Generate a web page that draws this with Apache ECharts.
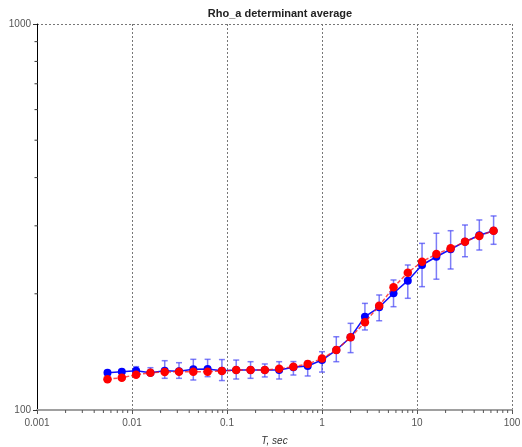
<!DOCTYPE html>
<html>
<head>
<meta charset="utf-8">
<script src="https://cdn.jsdelivr.net/npm/echarts@6/dist/echarts.min.js"></script>
<style>
  html, body { margin: 0; padding: 0; background: #fff; }
  #chart { width: 522px; height: 447px; }
</style>
</head>
<body>
<div id="chart"></div>
<script>
var periods = [0.00552, 0.00781, 0.01105, 0.01563, 0.0221, 0.03125, 0.0442, 0.0625, 0.0884, 0.125,
    0.177, 0.25, 0.354, 0.5, 0.707, 1, 1.414, 2, 2.83, 4,
    5.66, 8, 11.3, 16, 22.6, 32, 45.3, 64];

var rhoBlue = [124.9, 125.7, 126.4, 124.9, 126.4, 126.0, 127.5, 127.7, 126.4, 126.9,
    126.9, 126.9, 126.9, 129.0, 130.0, 134.7, 143.0, 154.3, 174.5, 184.5,
    200.6, 216.3, 237.5, 249.5, 260.9, 272.9, 283.6, 291.4];

var rhoRed = [120.1, 121.3, 123.4, 124.9, 125.4, 125.7, 125.7, 125.7, 126.2, 126.9,
    126.9, 126.9, 127.9, 129.5, 131.6, 135.9, 143.0, 154.3, 168.7, 186.3,
    207.9, 226.9, 242.2, 253.6, 262.5, 272.9, 282.4, 291.4];

var errLow = [123.5, 124.3, 124.5, 123.7, 120.8, 120.8, 119.6, 122.0, 119.2, 120.3,
    120.8, 121.8, 120.3, 123.2, 122.5, 125.4, 133.4, 140.8, 161.2, 170.3,
    185.2, 194.7, 208.7, 218.2, 231.9, 249.5, 259.7, 268.7];

var errHigh = [126.3, 127.1, 129.5, 128.7, 134.2, 132.6, 135.3, 135.3, 135.1, 134.7,
    133.4, 131.6, 133.4, 133.5, 133.9, 141.6, 154.8, 167.7, 188.9, 198.6,
    217.2, 237.5, 270.2, 287.0, 291.4, 301.5, 310.7, 318.2];

var xMinorTicks = [0.002, 0.003, 0.004, 0.005, 0.006, 0.007, 0.008, 0.009,
    0.02, 0.03, 0.04, 0.05, 0.06, 0.07, 0.08, 0.09,
    0.2, 0.3, 0.4, 0.5, 0.6, 0.7, 0.8, 0.9,
    2, 3, 4, 5, 6, 7, 8, 9,
    20, 30, 40, 50, 60, 70, 80, 90];
var yMinorTicks = [200, 300, 400, 500, 600, 700, 800, 900];

var font = 'Liberation Sans, Arial, sans-serif';

function pairs(xs, ys) {
    var res = [];
    for (var i = 0; i < xs.length; i++) {
        res.push([xs[i], ys[i]]);
    }
    return res;
}

var errData = [];
for (var i = 0; i < periods.length; i++) {
    errData.push([periods[i], errLow[i], errHigh[i]]);
}

var option = {
    animation: false,
    backgroundColor: '#fff',
    title: {
        text: 'Rho_a determinant average',
        left: 275,
        textAlign: 'center',
        top: 3,
        textStyle: {
            fontFamily: font,
            fontSize: 11,
            fontWeight: 'bold',
            color: '#222'
        }
    },
    grid: {
        left: 37,
        right: 10,
        top: 24,
        bottom: 37,
        containLabel: false,
        outerBoundsMode: 'none'
    },
    xAxis: {
        type: 'log',
        logBase: 10,
        min: 0.001,
        max: 100,
        name: 'T, sec',
        nameLocation: 'middle',
        nameGap: 26,
        nameTextStyle: {
            fontFamily: font,
            fontSize: 10,
            fontStyle: 'italic',
            color: '#333'
        },
        axisLine: {
            lineStyle: { color: '#a0a0a0', width: 2 }
        },
        axisTick: {
            length: 4,
            lineStyle: { color: '#555', width: 1 }
        },
        axisLabel: {
            fontFamily: font,
            fontSize: 10,
            color: '#555',
            margin: 8,
            formatter: function (v) { return String(v); }
        },
        splitLine: {
            show: true,
            lineStyle: { color: '#777', type: [2, 2], width: 1 }
        }
    },
    yAxis: {
        type: 'log',
        logBase: 10,
        min: 100,
        max: 1000,
        axisLine: {
            show: true,
            lineStyle: { color: '#000', width: 1 }
        },
        axisTick: {
            show: true,
            length: 4,
            lineStyle: { color: '#333', width: 1 }
        },
        axisLabel: {
            fontFamily: font,
            fontSize: 10,
            color: '#555',
            margin: 6,
            formatter: function (v) { return String(v); }
        },
        splitLine: {
            show: true,
            lineStyle: { color: '#777', type: [2, 2], width: 1 }
        }
    },
    series: [
        {
            name: 'xminor',
            type: 'custom',
            silent: true,
            clip: false,
            data: xMinorTicks.map(function (v) { return [v, 100]; }),
            renderItem: function (params, api) {
                var p = api.coord([api.value(0), api.value(1)]);
                return {
                    type: 'line',
                    shape: { x1: p[0], y1: p[1], x2: p[0], y2: p[1] + 3 },
                    style: { stroke: '#555', lineWidth: 1 }
                };
            },
            z: 1
        },
        {
            name: 'yminor',
            type: 'custom',
            silent: true,
            clip: false,
            data: yMinorTicks.map(function (v) { return [0.001, v]; }),
            renderItem: function (params, api) {
                var p = api.coord([api.value(0), api.value(1)]);
                return {
                    type: 'line',
                    shape: { x1: p[0] - 2.5, y1: p[1], x2: p[0] + 1, y2: p[1] },
                    style: { stroke: '#333', lineWidth: 1 }
                };
            },
            z: 1
        },
        {
            name: 'errors',
            type: 'custom',
            silent: true,
            data: errData,
            encode: { x: 0, y: [1, 2] },
            renderItem: function (params, api) {
                var lo = api.coord([api.value(0), api.value(1)]);
                var hi = api.coord([api.value(0), api.value(2)]);
                var w = 3;
                var st = { stroke: 'rgba(70,70,245,0.7)', lineWidth: 1.5 };
                return {
                    type: 'group',
                    children: [
                        { type: 'line', shape: { x1: lo[0], y1: lo[1], x2: hi[0], y2: hi[1] }, style: st },
                        { type: 'line', shape: { x1: lo[0] - w, y1: lo[1], x2: lo[0] + w, y2: lo[1] }, style: st },
                        { type: 'line', shape: { x1: hi[0] - w, y1: hi[1], x2: hi[0] + w, y2: hi[1] }, style: st }
                    ]
                };
            },
            z: 2
        },
        {
            name: 'blue',
            type: 'line',
            data: pairs(periods, rhoBlue),
            symbol: 'circle',
            symbolSize: 8,
            itemStyle: { color: '#0000ff' },
            lineStyle: { color: '#1010ff', width: 1.5 },
            z: 3
        },
        {
            name: 'red',
            type: 'line',
            data: pairs(periods, rhoRed),
            symbol: 'circle',
            symbolSize: 8.5,
            itemStyle: { color: '#ff0000' },
            lineStyle: { color: 'rgba(255,20,20,0.75)', width: 1.5, type: [4, 2] },
            z: 4
        }
    ]
};

var chart = echarts.init(document.getElementById('chart'));
chart.setOption(option);
</script>
</body>
</html>
